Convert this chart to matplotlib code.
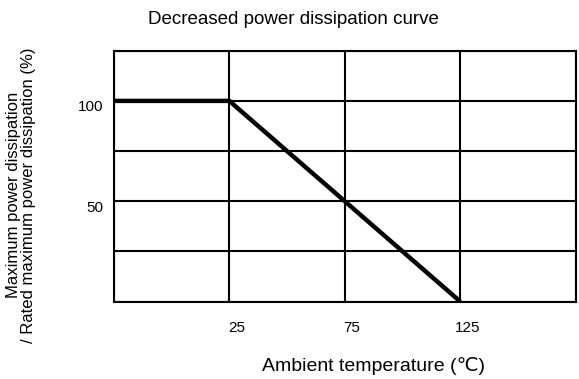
import matplotlib
matplotlib.use("Agg")
import matplotlib.pyplot as plt
from matplotlib.transforms import ScaledTranslation

plt.rcParams['font.family'] = ['Liberation Sans', 'DejaVu Sans']

# derating curve: full power up to 25 C, then linear down to zero at 125 C
temp = [-25, 25, 125]
power = [100, 100, 0]

grid_x = [-25, 25, 75, 125, 175]
grid_y = [0, 25, 50, 75, 100, 125]
xtick_pos = [25, 75, 125]
xtick_labels = ['25', '75', '125']
ytick_pos = [50, 100]
ytick_labels = ['50', '100']

W, H = 579, 379
fig = plt.figure(figsize=(W / 100, H / 100), dpi=100)
ax = fig.add_axes([0.1964, 0.2040, 0.7984, 0.6622])

ax.set_xlim(grid_x[0], grid_x[-1])
ax.set_ylim(grid_y[0], grid_y[-1])

for gx in grid_x:
    ax.axvline(gx, color='black', lw=1.5, zorder=1)
for gy in grid_y:
    ax.axhline(gy, color='black', lw=1.5, zorder=1)

ax.plot(temp, power, color='black', lw=3.2, solid_capstyle='butt', zorder=3)

for sp in ax.spines.values():
    sp.set_linewidth(1.5)

ax.set_xticks(xtick_pos)
ax.set_xticklabels(xtick_labels, fontsize=11)
ax.set_yticks(ytick_pos)
ax.set_yticklabels(ytick_labels, fontsize=11)
ax.tick_params(axis='x', length=0, pad=14)
ax.tick_params(axis='y', length=0, pad=7.7)

# nudge tick labels a few pixels off their grid lines
xshift = ScaledTranslation(7 / 100, 0, fig.dpi_scale_trans)
for lbl in ax.get_xticklabels():
    lbl.set_transform(lbl.get_transform() + xshift)
yshift = ScaledTranslation(0, -5 / 100, fig.dpi_scale_trans)
for lbl in ax.get_yticklabels():
    lbl.set_transform(lbl.get_transform() + yshift)

fig.text(293 / W, 1 - 20 / H, 'Decreased power dissipation curve',
         fontsize=13.5, ha='center', va='center')
fig.text(373 / W, 1 - 366 / H, 'Ambient temperature (\u2103)',
         fontsize=14, ha='center', va='center')
fig.text(21 / W, 1 - 195 / H,
         'Maximum power dissipation\n/ Rated maximum power dissipation (%)',
         fontsize=12, rotation=90, ha='center', va='center',
         multialignment='center', linespacing=1.0)

fig.savefig('out.png', dpi=100)
